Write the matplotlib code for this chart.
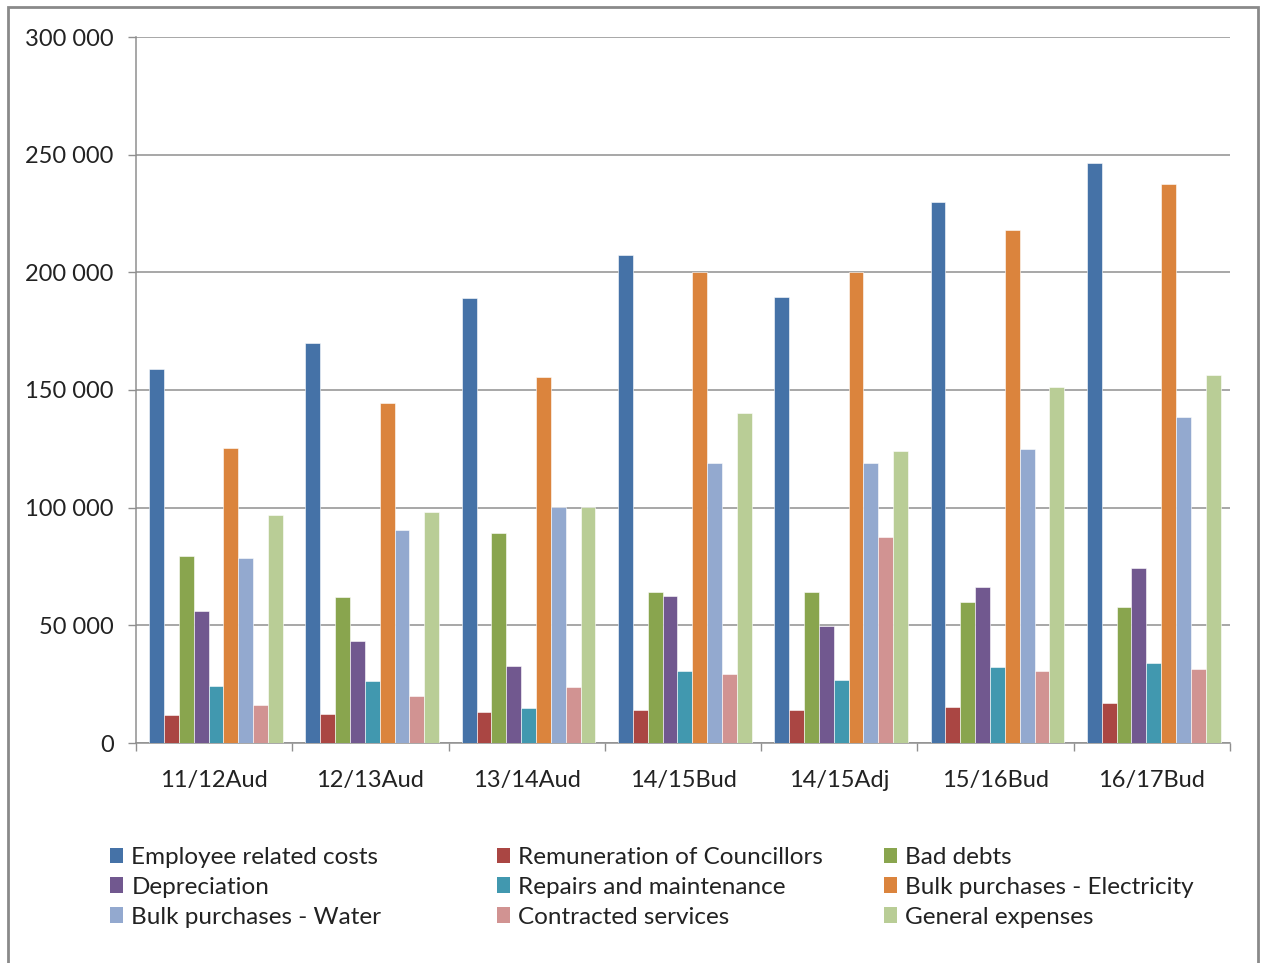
import numpy as np
import matplotlib
matplotlib.use("Agg")
import matplotlib.pyplot as plt
from matplotlib.patches import Rectangle, Patch
from matplotlib.ticker import FuncFormatter, MultipleLocator, FixedLocator

plt.rcParams['font.family'] = ['Lato', 'DejaVu Sans']

# categories and series
years = ['11/12Aud', '12/13Aud', '13/14Aud', '14/15Bud', '14/15Adj', '15/16Bud', '16/17Bud']

series_names = ['Employee related costs', 'Remuneration of Councillors', 'Bad debts',
                'Depreciation', 'Repairs and maintenance', 'Bulk purchases - Electricity',
                'Bulk purchases - Water', 'Contracted services', 'General expenses']

employee = [159000, 170000, 189000, 207500, 189500, 230000, 246300]
councillors = [12000, 12300, 13200, 14000, 14000, 15100, 17000]
bad_debts = [79500, 62000, 89300, 64200, 64200, 60000, 57800]
depreciation = [56100, 43400, 32700, 62500, 49700, 66100, 74500]
repairs = [24200, 26400, 14900, 30600, 26800, 32300, 33800]
electricity = [125400, 144500, 155500, 200000, 200000, 217800, 237500]
water = [78600, 90500, 100300, 119000, 119000, 125000, 138400]
contracted = [16200, 20000, 23800, 29300, 87600, 30600, 31500]
general = [96900, 98200, 100300, 140200, 124100, 151400, 156300]

colors = ['#4572A7', '#AA4643', '#89A54E', '#71588F', '#4198AF',
          '#DB843D', '#93A9CF', '#D19392', '#B9CD96']

all_series = [employee, councillors, bad_debts, depreciation, repairs,
              electricity, water, contracted, general]

fig = plt.figure(figsize=(12.63, 9.63), dpi=100)
ax = fig.add_axes([136 / 1263, 1 - 743 / 963, (1230 - 136) / 1263, (743 - 37) / 963])

x = np.arange(len(years))
w = 0.095
for i, (vals, c) in enumerate(zip(all_series, colors)):
    ax.bar(x + (i - 4) * w + 0.012, vals, width=w, color=c,
           edgecolor='white', linewidth=0.4, zorder=3)

ax.set_xlim(-0.5, len(years) - 0.5)
ax.set_ylim(0, 300000)
ax.yaxis.set_major_locator(MultipleLocator(50000))
ax.yaxis.set_major_formatter(FuncFormatter(lambda v, p: f"{int(v):,}".replace(",", " ")))
ax.grid(axis='y', color='#8f8f8f', linewidth=1.1, zorder=0)
ax.set_axisbelow(True)

ax.set_xticks(x)
ax.set_xticklabels(years)
ax.xaxis.set_minor_locator(FixedLocator(np.arange(-0.5, len(years), 1.0)))
ax.tick_params(axis='x', which='major', length=0, pad=19.5, labelsize=17, colors='#222222')
ax.tick_params(axis='x', which='minor', length=6, width=1, color='#8f8f8f', direction='out')
ax.tick_params(axis='y', length=6, width=1, color='#8f8f8f', pad=10, labelsize=17,
               labelcolor='#222222')

for s in ['top', 'right']:
    ax.spines[s].set_visible(False)
for s in ['left', 'bottom']:
    ax.spines[s].set_color('#8f8f8f')
    ax.spines[s].set_linewidth(1.1)

# legend, three columns laid out row by row
col_x = [110 / 1263, 497 / 1263, 884 / 1263]
for col in range(3):
    idx = [col, col + 3, col + 6]
    handles = [Patch(facecolor=colors[k], edgecolor='none') for k in idx]
    labels = [series_names[k] for k in idx]
    fig.legend(handles, labels, loc='upper left', bbox_to_anchor=(col_x[col], 1 - 847 / 963),
               frameon=False, fontsize=17.5, handlelength=0.55, handleheight=0.6,
               handletextpad=0.33, labelspacing=0.36, borderaxespad=0, borderpad=0,
               labelcolor='#222222')

fig.patches.append(Rectangle((8 / 1263, -0.01), 1250 / 1263, 1 - 7 / 963 + 0.01,
                             transform=fig.transFigure, fill=False,
                             edgecolor='#8a8a8a', linewidth=2))

fig.savefig('out.png', dpi=100, facecolor='white')
